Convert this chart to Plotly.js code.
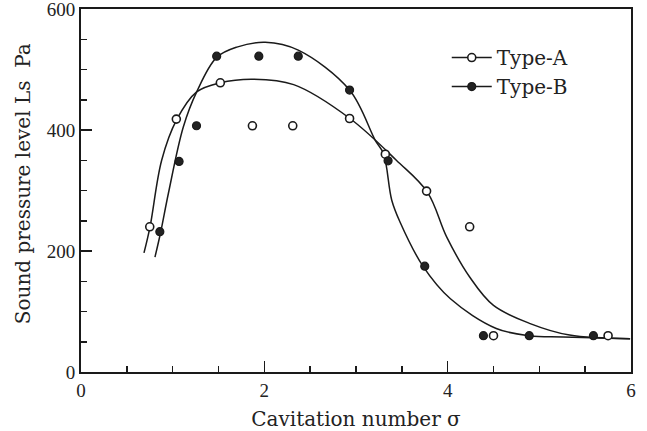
<!DOCTYPE html>
<html>
<head>
<meta charset="utf-8">
<script src="https://cdn.plot.ly/plotly-3.0.1.min.js"></script>
<style>
  html, body { margin: 0; padding: 0; background: #fff; }
  #chart { width: 647px; height: 431px; }
</style>
</head>
<body>
<div id="chart"></div>
<script>
// Measured points
const typeA_x = [0.75, 1.04, 1.52, 1.87, 2.31, 2.93, 3.32, 3.77, 4.24, 4.50, 5.75];
const typeA_y = [240, 418, 478, 407, 407, 419, 360, 299, 240, 60, 60];
const typeB_x = [0.86, 1.07, 1.26, 1.48, 1.94, 2.37, 2.93, 3.35, 3.75, 4.39, 4.89, 5.59];
const typeB_y = [232, 348, 407, 522, 522, 522, 466, 349, 175, 60, 60, 60];

// Fitted curves
const curveA_x = [0.687, 0.753, 0.88, 1.044, 1.262, 1.516, 1.88, 2.32, 2.934, 3.44, 3.78, 3.99, 4.24, 4.50, 4.90, 5.33, 5.99];
const curveA_y = [197, 240, 350, 417, 463, 478, 484, 475, 419, 350, 297, 223, 157, 110, 80, 61, 55];
const curveB_x = [0.807, 0.869, 0.953, 1.116, 1.262, 1.48, 1.70, 2.01, 2.37, 2.93, 3.21, 3.30, 3.39, 3.48, 3.73, 4.03, 4.53, 4.89, 5.26, 5.99];
const curveB_y = [190, 231, 295, 405, 463, 520, 537, 545, 532, 466, 383, 361, 284, 248, 175, 121, 72, 60, 58, 55];

const seriesNames = ['Type-A', 'Type-B'];
const xTitle = 'Cavitation number σ';
const yTitle = 'Sound pressure level Ls\u00a0\u00a0Pa';

const ink = '#1a1a1a';
const serif = 'DejaVu Serif, serif';
const tickFont = 'Liberation Serif, serif';

const openMarker = {symbol: 'circle', size: 8, color: '#fff', line: {color: ink, width: 1.6}};
const fillMarker = {symbol: 'circle', size: 8, color: '#222', line: {color: ink, width: 1.2}};

const traces = [
  {x: curveA_x, y: curveA_y, mode: 'lines', line: {color: ink, width: 1.5, shape: 'spline', smoothing: 1}, showlegend: false, hoverinfo: 'skip'},
  {x: curveB_x, y: curveB_y, mode: 'lines', line: {color: ink, width: 1.5, shape: 'spline', smoothing: 1}, showlegend: false, hoverinfo: 'skip'},
  {x: typeA_x, y: typeA_y, mode: 'markers', marker: openMarker, showlegend: false},
  {x: typeB_x, y: typeB_y, mode: 'markers', marker: fillMarker, showlegend: false},
  {x: [null], y: [null], mode: 'lines+markers', name: seriesNames[0], marker: openMarker, line: {color: ink, width: 1.5}},
  {x: [null], y: [null], mode: 'lines+markers', name: seriesNames[1], marker: fillMarker, line: {color: ink, width: 1.5}}
];

const axisCommon = {
  showline: true, linecolor: ink, linewidth: 2, mirror: true,
  ticks: 'inside', ticklen: 11, tickwidth: 1.5, tickcolor: ink,
  showgrid: false, zeroline: false, ticklabeloverflow: 'allow',
  tickfont: {family: tickFont, size: 19, color: '#222'}
};

const layout = {
  width: 647, height: 431,
  margin: {l: 81, r: 16, t: 9, b: 59},
  paper_bgcolor: '#fff', plot_bgcolor: '#fff',
  xaxis: Object.assign({}, axisCommon, {
    range: [0, 6], dtick: 2, tick0: 0,
    minor: {dtick: 0.5, ticks: 'inside', ticklen: 6, tickwidth: 1.5, tickcolor: ink, showgrid: false},
    title: {text: xTitle, font: {family: serif, size: 20, color: '#222'}, standoff: 17}
  }),
  yaxis: Object.assign({}, axisCommon, {
    range: [0, 600], dtick: 200, tick0: 0,
    minor: {dtick: 50, ticks: 'inside', ticklen: 6, tickwidth: 1.5, tickcolor: ink, showgrid: false}
  }),
  annotations: [{
    text: yTitle, textangle: -90, xref: 'paper', yref: 'paper',
    x: -0.1055, y: 0.52, xanchor: 'center', yanchor: 'middle', showarrow: false,
    font: {family: serif, size: 20, color: '#222'}
  }],
  legend: {
    x: 0.665, y: 0.92, xanchor: 'left', yanchor: 'top',
    itemwidth: 40,
    bgcolor: 'rgba(0,0,0,0)', borderwidth: 0,
    font: {family: serif, size: 20, color: '#222'}
  },
  showlegend: true
};

Plotly.newPlot('chart', traces, layout, {displayModeBar: false, staticPlot: true});
</script>
</body>
</html>
